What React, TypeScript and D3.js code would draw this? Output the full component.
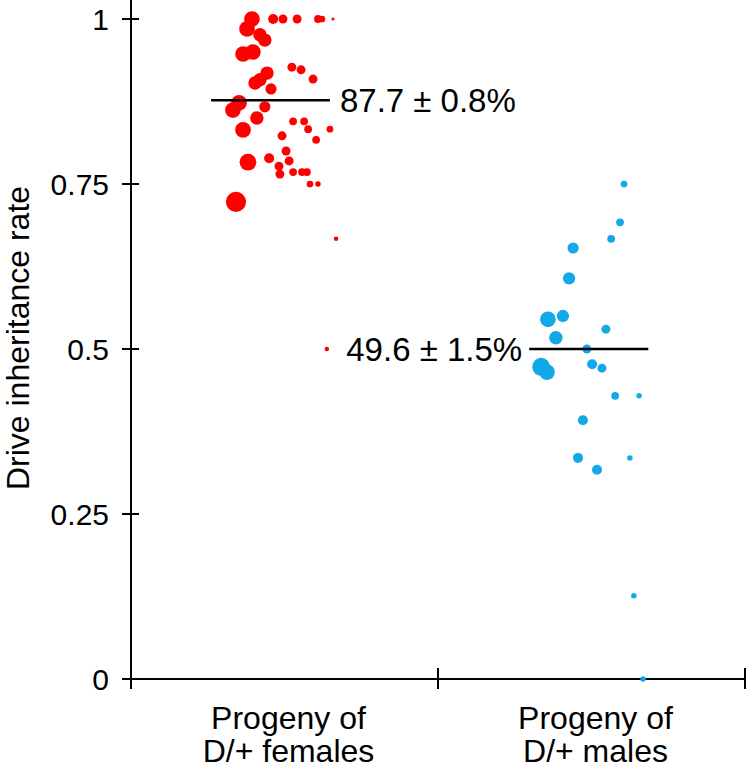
import React from "react";
import * as d3 from "d3";

// ---- Data ----
const categories = ["Progeny of|D/+ females", "Progeny of|D/+ males"];
const yTicks = [0, 0.25, 0.5, 0.75, 1];
const yTickLabels = ["0", "0.25", "0.5", "0.75", "1"];

// Progeny of D/+ females: inheritance rate, horizontal jitter (category units), progeny count (dot area)
const femaleRate = [1.0, 1.0, 1.0, 1.0, 1.0, 1.0, 1.0, 0.985, 0.976, 0.968, 0.947, 0.95, 0.927, 0.923, 0.909, 0.918, 0.908, 0.903, 0.894, 0.873, 0.862, 0.867, 0.85, 0.832, 0.845, 0.845, 0.833, 0.833, 0.823, 0.817, 0.783, 0.789, 0.8, 0.785, 0.777, 0.765, 0.768, 0.768, 0.768, 0.75, 0.75, 0.723, 0.667, 0.5];
const femaleJitter = [-0.106, -0.037, -0.005, 0.041, 0.109, 0.122, 0.158, -0.122, -0.08, -0.064, -0.135, -0.103, 0.024, 0.054, 0.093, -0.057, -0.08, -0.096, -0.044, -0.148, -0.168, -0.064, -0.09, -0.135, 0.028, 0.064, 0.077, 0.148, -0.008, 0.103, -0.119, -0.05, 0.005, 0.015, -0.018, -0.015, 0.028, 0.057, 0.073, 0.083, 0.109, -0.158, 0.168, 0.138];
const femaleCount = [49, 20, 16, 16, 12, 9, 2, 49, 36, 36, 49, 49, 16, 16, 16, 36, 36, 36, 25, 49, 49, 25, 36, 49, 12, 12, 12, 9, 16, 12, 56, 20, 16, 16, 16, 16, 12, 12, 12, 9, 6, 81, 4, 4];

// Progeny of D/+ males
const maleRate = [0.75, 0.692, 0.667, 0.653, 0.607, 0.545, 0.55, 0.517, 0.53, 0.5, 0.473, 0.465, 0.477, 0.471, 0.429, 0.429, 0.392, 0.335, 0.335, 0.317, 0.126, 0.0];
const maleJitter = [0.106, 0.093, 0.064, -0.06, -0.073, -0.142, -0.093, -0.116, 0.047, -0.015, -0.164, -0.145, 0.002, 0.034, 0.077, 0.155, -0.028, -0.044, 0.125, 0.018, 0.138, 0.168];
const maleCount = [9, 12, 12, 25, 30, 49, 30, 36, 16, 16, 64, 49, 20, 16, 12, 6, 20, 20, 6, 20, 6, 6];

const meanLineValue = [0.877, 0.5];
const meanLabels = ["87.7 ± 0.8%", "49.6 ± 1.5%"];
const yTitle = "Drive inheritance rate";

// ---- Layout / style ----
const W = 747;
const H = 768;
const COLORS = ["#ff0000", "#13a9e8"];
const FONT = "'Liberation Sans', Arial, Helvetica, sans-serif";
const meanLineExtent = [
  [-0.239, 0.148],
  [-0.203, 0.185],
];

export default function App() {
  const x = d3.scaleLinear().domain([0.5, 2.5]).range([131, 745]);
  const y = d3.scaleLinear().domain([0, 1]).range([679, 19]);
  const r = d3.scaleSqrt().domain([0, 100]).range([0, 11.2]);

  const groups = [
    { rate: femaleRate, jitter: femaleJitter, count: femaleCount },
    { rate: maleRate, jitter: maleJitter, count: maleCount },
  ];

  const x0 = x(0.5);
  const y0 = y(0);

  return (
    <svg
      width={W}
      height={H}
      style={{ position: "absolute", left: 0, top: 0, background: "#fff" }}
      fontFamily={FONT}
    >
      {/* y axis */}
      <line x1={x0} x2={x0} y1={0} y2={y0} stroke="#000" strokeWidth={2} />
      {yTicks.map((t, i) => (
        <g key={"yt" + i}>
          <line x1={x0 - 9} x2={x0 + 8} y1={y(t)} y2={y(t)} stroke="#000" strokeWidth={2} />
          <text x={109} y={y(t)} dy="0.36em" textAnchor="end" fontSize={30} fill="#000">
            {yTickLabels[i]}
          </text>
        </g>
      ))}
      <text transform={`translate(29, ${338}) rotate(-90)`} textAnchor="middle" fontSize={32} fill="#000">
        {yTitle}
      </text>

      {/* x axis */}
      <line x1={x0} x2={x(2.5)} y1={y0} y2={y0} stroke="#000" strokeWidth={2} />
      {[0.5, 1.5, 2.5].map((t, i) => (
        <line key={"xt" + i} x1={x(t)} x2={x(t)} y1={y0 - 11} y2={y0 + 10} stroke="#000" strokeWidth={2} />
      ))}
      {categories.map((c, i) => {
        const lines = c.split("|");
        return (
          <text key={"cat" + i} x={x(i + 1) + 4} textAnchor="middle" fontSize={32} fill="#000">
            {lines.map((l, j) => (
              <tspan key={j} x={x(i + 1) + 4} y={729 + j * 33}>
                {l}
              </tspan>
            ))}
          </text>
        );
      })}

      {/* points */}
      {groups.map((g, gi) => (
        <g key={"grp" + gi} fill={COLORS[gi]}>
          {g.rate.map((v, k) => (
            <circle key={k} cx={x(gi + 1 + g.jitter[k])} cy={y(v)} r={r(g.count[k])} />
          ))}
        </g>
      ))}

      {/* mean lines and labels */}
      {meanLineValue.map((m, i) => (
        <line
          key={"ml" + i}
          x1={x(i + 1 + meanLineExtent[i][0])}
          x2={x(i + 1 + meanLineExtent[i][1])}
          y1={y(m)}
          y2={y(m)}
          stroke="#000"
          strokeWidth={2.5}
        />
      ))}
      <text x={x(1 + meanLineExtent[0][1]) + 10} y={y(meanLineValue[0]) + 12} fontSize={33} fill="#000">
        {meanLabels[0]}
      </text>
      <text
        x={x(2 + meanLineExtent[1][0]) - 7}
        y={y(meanLineValue[1]) + 12}
        textAnchor="end"
        fontSize={33}
        fill="#000"
      >
        {meanLabels[1]}
      </text>
    </svg>
  );
}
